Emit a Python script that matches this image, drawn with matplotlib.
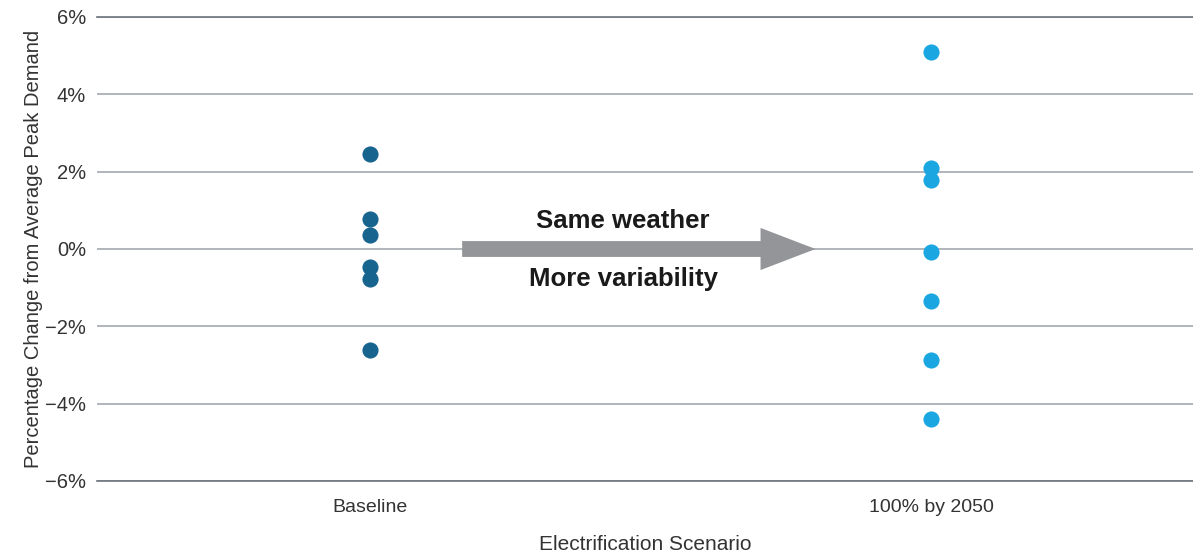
import matplotlib
matplotlib.use("Agg")
from matplotlib import pyplot as plt
import numpy as np

scenarios = ["Baseline", "100% by 2050"]
baseline_vals = [2.46, 0.78, 0.36, -0.47, -0.78, -2.61]
elec_vals = [5.09, 2.09, 1.78, -0.08, -1.34, -2.87, -4.40]
y_ticks = [-6, -4, -2, 0, 2, 4, 6]
y_tick_labels = ["\u22126%", "\u22124%", "\u22122%", "0%", "2%", "4%", "6%"]

DARK_BLUE = "#17658f"
LIGHT_BLUE = "#1aa7e1"
GRID = "#a4a8ad"
ARROW = "#939598"
TEXT = "#333333"

plt.rcParams['font.family'] = ['Liberation Sans', 'DejaVu Sans']

fig = plt.figure(figsize=(11.93, 5.57), dpi=100)
ax = fig.add_axes([97 / 1193, 1 - 481 / 557, 1096 / 1193, 464 / 557])

ax.scatter(np.zeros(len(baseline_vals)), baseline_vals, s=135, color=DARK_BLUE,
           zorder=3, linewidths=0)
ax.scatter(np.ones(len(elec_vals)), elec_vals, s=135, color=LIGHT_BLUE,
           zorder=3, linewidths=0)

ax.set_xlim(-0.487, 1.467)
ax.set_ylim(-6, 6)
ax.set_yticks(y_ticks)
ax.set_yticklabels(y_tick_labels, fontsize=14.5, color=TEXT)
ax.set_xticks([0, 1])
ax.set_xticklabels(scenarios, fontsize=14, color=TEXT)
ax.tick_params(axis='both', length=0)
ax.tick_params(axis='y', pad=8)
ax.tick_params(axis='x', pad=13)
ax.yaxis.grid(True, color=GRID, linewidth=1.2)
ax.set_axisbelow(True)
for side in ["left", "right"]:
    ax.spines[side].set_visible(False)
for side in ["top", "bottom"]:
    ax.spines[side].set_color("#6b737c")
    ax.spines[side].set_linewidth(1.2)

ax.set_ylabel("Percentage Change from Average Peak Demand", fontsize=14.5,
              color=TEXT, labelpad=1)
ax.set_xlabel("Electrification Scenario", fontsize=15, color=TEXT, labelpad=14)

# arrow between the two groups
ax.arrow(0.164, 0, 0.63 - 0.098, 0, width=0.41, head_width=1.09,
         head_length=0.098, length_includes_head=False, color=ARROW,
         linewidth=0, zorder=2)
ax.text(0.451, 0.72, "Same weather", ha="center", va="center", fontsize=18.5,
        fontweight="bold", color="#1a1a1a")
ax.text(0.451, -0.78, "More variability", ha="center", va="center", fontsize=18.5,
        fontweight="bold", color="#1a1a1a")

fig.savefig("out.png", dpi=100)
